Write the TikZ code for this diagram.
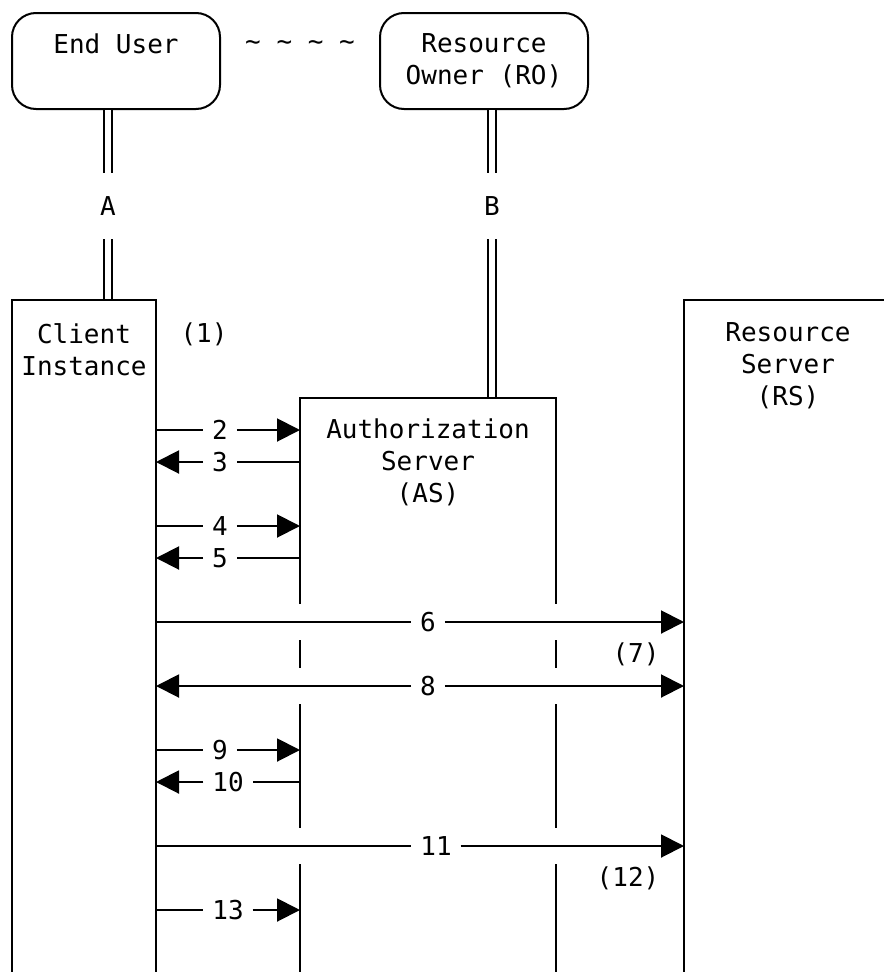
\documentclass[tikz,border=0pt]{standalone}
\usepackage{fontspec}
\setmonofont{DejaVu Sans Mono}
\usetikzlibrary{arrows.meta}

\tikzset{
  lbl/.style={inner xsep=8pt, inner ysep=2pt},
  msg/.style={-{Triangle[length=23pt,width=23pt]}},
  dbl/.style={double, double distance=5.5pt},
  party/.style={draw, rounded corners=24pt, minimum width=208pt, minimum height=96pt, align=center},
}

\begin{document}
\begin{tikzpicture}[x=1pt, y=-1pt, line width=2pt,
    every node/.style={font=\ttfamily\fontsize{26}{32}\selectfont}]
  \useasboundingbox (0,0) rectangle (884,972);

  % people on top
  \node[party] (enduser) at (116,61) {End User\\\phantom{(}};
  \node[party] (owner) at (484,61) {Resource\\Owner (RO)};
  \node (tilde) at (300,46) {\textasciitilde{} \textasciitilde{} \textasciitilde{} \textasciitilde};

  \node[minimum height=64pt, inner sep=0pt] (ltrA) at (108,206) {A};
  \node[minimum height=64pt, inner sep=0pt] (ltrB) at (492,206) {B};
  \coordinate (cltop) at (108,300);
  \coordinate (astop) at (492,398);
  \draw[dbl] (enduser.south -| ltrA) -- (ltrA);
  \draw[dbl] (ltrA) -- (cltop);
  \draw[dbl] (owner.south -| ltrB) -- (ltrB);
  \draw[dbl] (ltrB) -- (astop);

  % client instance
  \draw (12,972) -- (12,300) -- (156,300) -- (156,972);
  \node[align=center] (client) at (84,350) {Client\\Instance};
  \node (step1) at (204,334) {(1)};

  % authorization server
  \draw (300,604) -- (300,398) -- (556,398) -- (556,604);
  \draw (300,640) -- (300,668) (556,640) -- (556,668);
  \draw (300,704) -- (300,828) (556,704) -- (556,828);
  \draw (300,864) -- (300,972) (556,864) -- (556,972);
  \node[align=center] (authz) at (428,462) {Authorization\\Server\\(AS)};

  % resource server
  \draw (684,972) -- (684,300) -- (884,300);
  \node[align=center] (rserver) at (788,366) {Resource\\Server\\(RS)};

  \coordinate (cir) at (156,0);
  \coordinate (asl) at (300,0);
  \coordinate (rsl) at (684,0);

  % messages
  \node[lbl] (m2) at (220,430) {2};
  \draw (m2 -| cir) -- (m2);
  \draw[msg] (m2) -- (m2 -| asl);

  \node[lbl] (m3) at (220,462) {3};
  \draw[msg] (m3) -- (m3 -| cir);
  \draw (m3 -| asl) -- (m3);

  \node[lbl] (m4) at (220,526) {4};
  \draw (m4 -| cir) -- (m4);
  \draw[msg] (m4) -- (m4 -| asl);

  \node[lbl] (m5) at (220,558) {5};
  \draw[msg] (m5) -- (m5 -| cir);
  \draw (m5 -| asl) -- (m5);

  \node[lbl] (m6) at (428,622) {6};
  \draw (m6 -| cir) -- (m6);
  \draw[msg] (m6) -- (m6 -| rsl);
  \node (step7) at (636,654) {(7)};

  \node[lbl] (m8) at (428,686) {8};
  \draw[msg] (m8) -- (m8 -| cir);
  \draw[msg] (m8) -- (m8 -| rsl);

  \node[lbl] (m9) at (220,750) {9};
  \draw (m9 -| cir) -- (m9);
  \draw[msg] (m9) -- (m9 -| asl);

  \node[lbl] (m10) at (228,782) {10};
  \draw[msg] (m10) -- (m10 -| cir);
  \draw (m10 -| asl) -- (m10);

  \node[lbl] (m11) at (436,846) {11};
  \draw (m11 -| cir) -- (m11);
  \draw[msg] (m11) -- (m11 -| rsl);
  \node (step12) at (628,878) {(12)};

  \node[lbl] (m13) at (228,910) {13};
  \draw (m13 -| cir) -- (m13);
  \draw[msg] (m13) -- (m13 -| asl);
\end{tikzpicture}
\end{document}
